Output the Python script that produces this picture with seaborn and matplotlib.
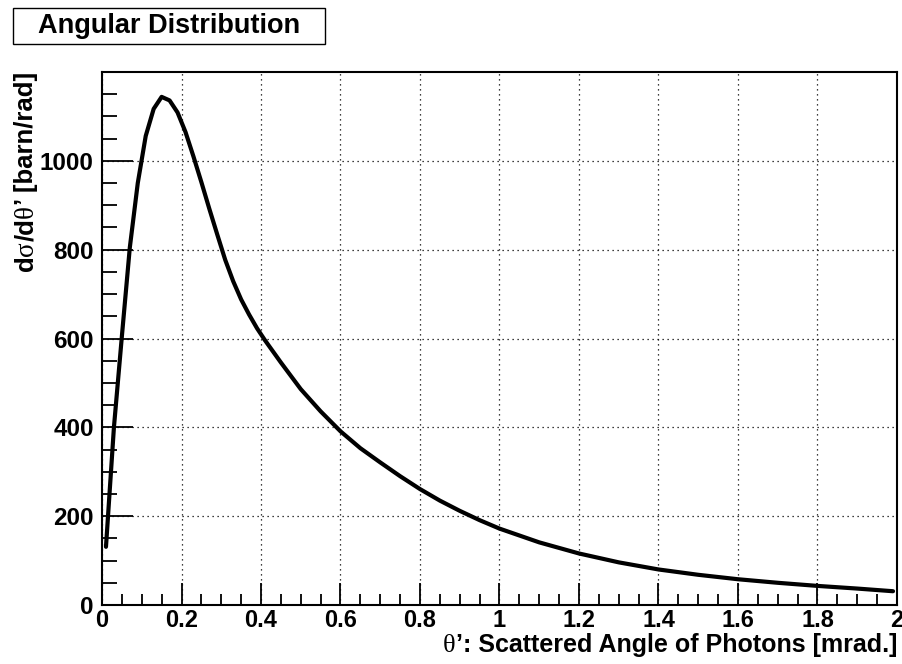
import matplotlib
matplotlib.use("Agg")
import matplotlib.pyplot as plt
from matplotlib.patches import Rectangle
from matplotlib.ticker import MultipleLocator
import seaborn as sns
import pandas as pd

# Scattered photon angle (mrad) and differential cross section (barn/rad)
theta = [0.01, 0.03, 0.05, 0.07, 0.09, 0.11, 0.13, 0.15, 0.17, 0.19,
         0.21, 0.23, 0.25, 0.27, 0.29, 0.31, 0.33, 0.35, 0.37, 0.39,
         0.41, 0.45, 0.50, 0.55, 0.60, 0.65, 0.70, 0.75, 0.80, 0.85,
         0.90, 0.95, 1.00, 1.10, 1.20, 1.30, 1.40, 1.50, 1.60, 1.70,
         1.80, 1.90, 1.99]
dsigma = [131, 400, 605, 805, 950, 1056, 1117, 1144, 1136, 1109,
          1065, 1010, 952, 892, 834, 777, 729, 688, 654, 623,
          596, 546, 486, 436, 391, 353, 321, 290, 261, 235,
          212, 191, 172, 141, 116, 96, 80, 68, 58, 50,
          43, 37, 31]

x_ticks = [0, 0.2, 0.4, 0.6, 0.8, 1, 1.2, 1.4, 1.6, 1.8, 2]
x_tick_labels = ["0", "0.2", "0.4", "0.6", "0.8", "1", "1.2", "1.4", "1.6", "1.8", "2"]
y_ticks = [0, 200, 400, 600, 800, 1000]
y_tick_labels = ["0", "200", "400", "600", "800", "1000"]

title = "Angular Distribution"
# Axis titles as (text, is_greek) pieces: Greek letters use a serif face
x_label = [("θ", True), ("’: Scattered Angle of Photons [mrad.]", False)]
y_label = [("d", False), ("σ", True), ("/d", False), ("θ", True), ("’ [barn/rad]", False)]

W, H = 903, 664

sns.set_style("white")
plt.rcParams["font.family"] = ["Liberation Sans", "DejaVu Sans"]
plt.rcParams["font.weight"] = "bold"
plt.rcParams["text.color"] = "black"
plt.rcParams["xtick.color"] = "black"
plt.rcParams["ytick.color"] = "black"

df = pd.DataFrame({"theta": theta, "dsigma": dsigma})

fig = plt.figure(figsize=(W / 100, H / 100), dpi=100)
ax = fig.add_axes([102 / W, 59 / H, 795 / W, 533 / H])

sns.lineplot(data=df, x="theta", y="dsigma", ax=ax, color="black",
             linewidth=3.0, sort=False, zorder=3)

ax.set_xlim(0, 2)
ax.set_ylim(0, 1200)
ax.set_xticks(x_ticks)
ax.set_xticklabels(x_tick_labels, fontsize=17, fontweight="bold")
ax.set_yticks(y_ticks)
ax.set_yticklabels(y_tick_labels, fontsize=17.5, fontweight="bold")
ax.xaxis.set_minor_locator(MultipleLocator(0.05))
ax.yaxis.set_minor_locator(MultipleLocator(50))

ax.tick_params(axis="x", which="major", direction="in", length=16, width=1.3,
               pad=3, top=False, bottom=True)
ax.tick_params(axis="x", which="minor", direction="in", length=8, width=1.3,
               top=False, bottom=True)
ax.tick_params(axis="y", which="major", direction="in", length=22, width=1.3,
               pad=6, left=True, right=False)
ax.tick_params(axis="y", which="minor", direction="in", length=11, width=1.3,
               left=True, right=False)

ax.grid(True, which="major", color="black", linestyle=(0, (1, 3)), linewidth=0.9)
for side in ax.spines.values():
    side.set_visible(True)
    side.set_color("black")
    side.set_linewidth(1.5)

ax.set_xlabel("")
ax.set_ylabel("")

renderer = fig.canvas.get_renderer()


def piece_props(is_greek, size):
    if is_greek:
        return dict(family=["Liberation Serif", "DejaVu Serif"], fontweight="normal",
                    fontsize=size + 1)
    return dict(family=["Liberation Sans", "DejaVu Sans"], fontweight="bold",
                fontsize=size)


def piece_width(s, is_greek, size):
    t = fig.text(0, 0, s, **piece_props(is_greek, size))
    w = t.get_window_extent(renderer).width
    t.remove()
    return w


def draw_pieces(pieces, start_px, base_px, vertical, size):
    """Lay out mixed-font pieces; start_px is the left (or bottom) end in pixels."""
    pos = start_px
    for s, g in pieces:
        if vertical:
            fig.text(base_px / W, pos / H, s, rotation=90, rotation_mode="anchor",
                     ha="left", va="baseline", **piece_props(g, size))
        else:
            fig.text(pos / W, base_px / H, s, ha="left", va="baseline",
                     **piece_props(g, size))
        pos += piece_width(s, g, size)
    return pos


# x title: right end at the axis end, baseline near the bottom edge
XSIZE = 18
xw = sum(piece_width(s, g, XSIZE) for s, g in x_label)
draw_pieces(x_label, 897 - xw, H - 652, vertical=False, size=XSIZE)

# y title: rotated, top end at the top of the frame
YSIZE = 18.5
yw = sum(piece_width(s, g, YSIZE) for s, g in y_label)
draw_pieces(y_label, (H - 72) - yw, 33, vertical=True, size=YSIZE)

# Title box in the upper-left corner
fig.patches.append(Rectangle((13 / W, 1 - 44 / H), 312 / W, 36 / H,
                             transform=fig.transFigure, facecolor="white",
                             edgecolor="black", linewidth=1.0))
fig.text(169 / W, 1 - 26 / H, title, ha="center", va="center",
         fontsize=19.5, fontweight="bold")

fig.savefig("out.png", dpi=100, facecolor="white")
